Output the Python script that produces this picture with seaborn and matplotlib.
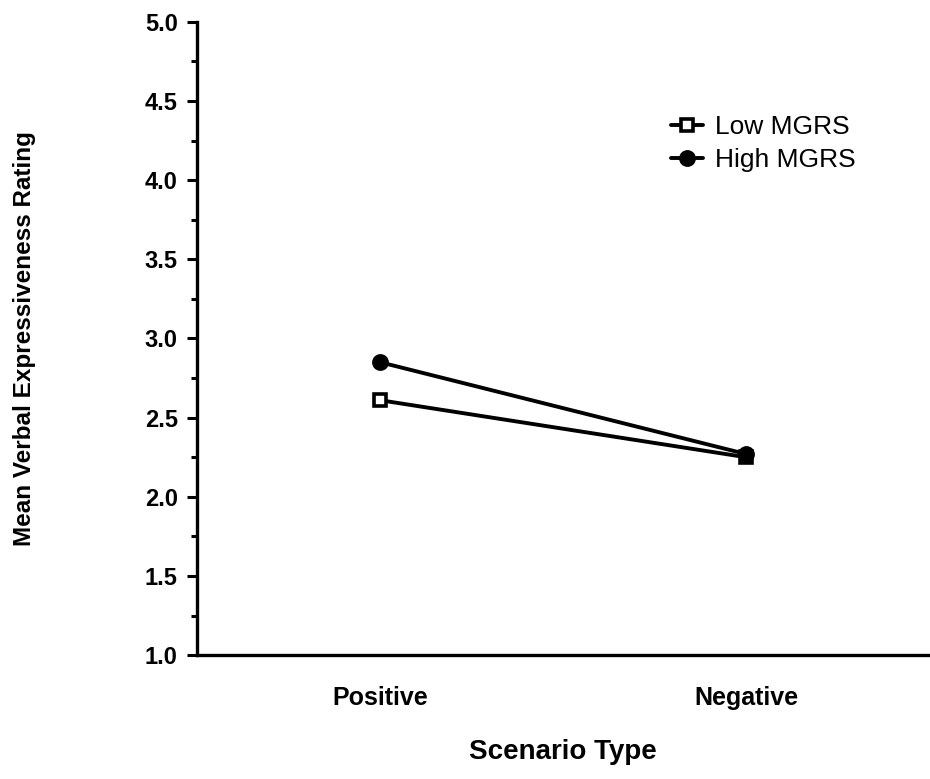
import matplotlib
matplotlib.use("Agg")
import matplotlib.pyplot as plt
import seaborn as sns
import pandas as pd
from matplotlib.ticker import MultipleLocator, FormatStrFormatter

scenarios = ["Positive", "Negative"]
groups = ["Low MGRS", "High MGRS"]
low_vals = [2.61, 2.25]
high_vals = [2.85, 2.27]

df = pd.DataFrame({
    "Scenario Type": scenarios * 2,
    "Rating": low_vals + high_vals,
    "Group": [groups[0]] * 2 + [groups[1]] * 2,
})

sns.set_style("ticks")
plt.rcParams["font.family"] = ["Liberation Sans", "DejaVu Sans"]
for k in ["text.color", "axes.labelcolor", "xtick.color", "ytick.color", "axes.edgecolor"]:
    plt.rcParams[k] = "black"

fig = plt.figure(figsize=(9.3, 7.79), dpi=100)
ax = fig.add_axes([0.212, 0.159, 0.787, 0.813])

sns.pointplot(data=df, x="Scenario Type", y="Rating", hue="Group",
              order=scenarios, hue_order=groups,
              palette=["black", "black"], markers=["s", "o"],
              linestyles=["-", "-"], markersize=8, linewidth=2.8,
              dodge=False, errorbar=None, ax=ax, legend=False)

lines = [l for l in ax.lines if len(l.get_xdata()) > 1]
low_line, high_line = lines[0], lines[1]
low_line.set_markerfacecolor("white")
low_line.set_markeredgecolor("black")
low_line.set_markeredgewidth(2.6)
low_line.set_markersize(8)
high_line.set_markersize(10)
low_line.set_zorder(3)
high_line.set_zorder(4)

ax.set_ylim(1.0, 5.0)
ax.set_xlim(-0.5, 1.5)
ax.yaxis.set_major_locator(MultipleLocator(0.5))
ax.yaxis.set_minor_locator(MultipleLocator(0.25))
ax.yaxis.set_major_formatter(FormatStrFormatter("%.1f"))
ax.tick_params(axis="y", which="major", length=7, width=2.2, labelsize=17, pad=7)
ax.tick_params(axis="y", which="minor", length=4.5, width=2.2)
ax.tick_params(axis="x", length=0, labelsize=18, pad=22)
for lab in ax.get_xticklabels() + ax.get_yticklabels():
    lab.set_fontweight("bold")

for side in ["top", "right"]:
    ax.spines[side].set_visible(False)
ax.spines["left"].set_linewidth(2.4)
ax.spines["bottom"].set_linewidth(2.4)

ax.set_xlabel("Scenario Type", fontsize=20, fontweight="bold", labelpad=21)
ax.set_ylabel("Mean Verbal Expressiveness Rating", fontsize=17.5, fontweight="bold", labelpad=78)

leg = ax.legend([low_line, high_line], groups, loc="upper left",
                bbox_to_anchor=(0.615, 0.89), frameon=False,
                fontsize=19, handlelength=1.2, handletextpad=0.45,
                labelspacing=0.33)
for t in leg.get_texts():
    t.set_fontweight("normal")

fig.savefig("out.png", dpi=100)
